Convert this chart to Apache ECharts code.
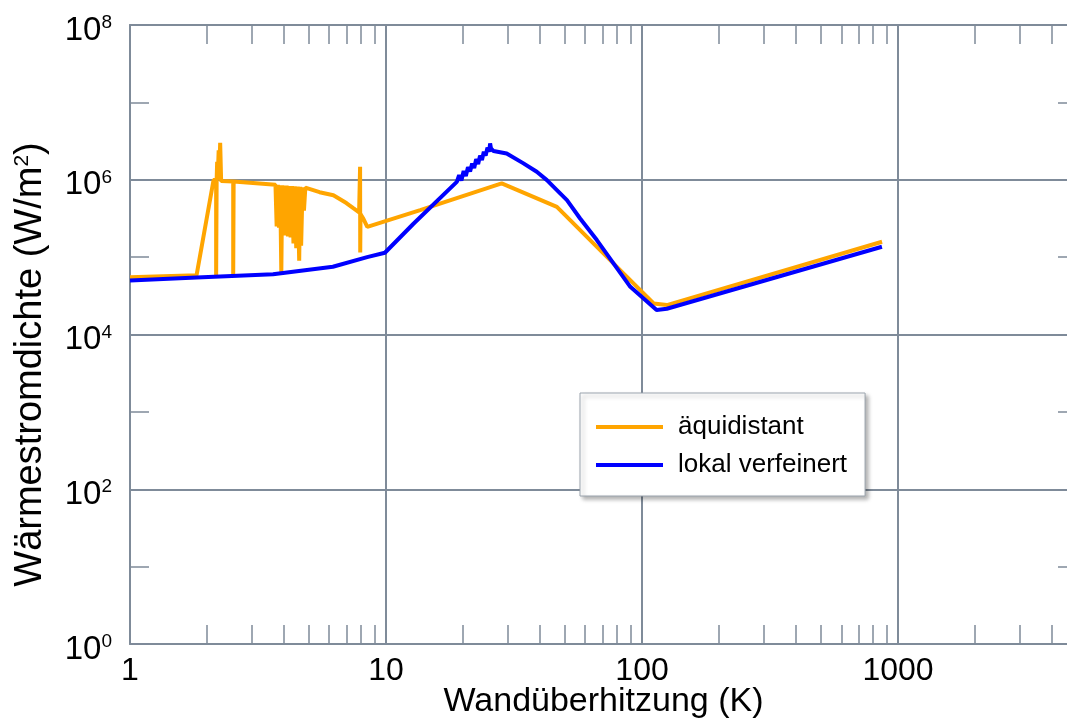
<!DOCTYPE html>
<html>
<head>
<meta charset="utf-8">
<script src="https://cdn.jsdelivr.net/npm/echarts@6.0.0/dist/echarts.min.js"></script>
<style>
html, body { margin: 0; padding: 0; background: #fff; }
#main { width: 1067px; height: 721px; }
</style>
</head>
<body>
<div id="main"></div>
<script>
// äquidistant (orange)
const aequiX = [1, 1.82, 2.12, 2.17, 2.17, 2.18, 2.19, 2.20, 2.22, 2.23, 2.25, 2.27, 2.27, 2.53, 2.53, 2.54,
  3.70, 3.74, 3.78, 3.82, 3.86, 3.90, 3.93, 3.97, 4.00, 4.05, 4.09, 4.14, 4.18, 4.24, 4.29, 4.35, 4.40,
  4.46, 4.52, 4.58, 4.62, 4.66, 4.72, 4.78, 4.84, 5.5, 6.23, 7.0, 7.45, 7.85, 7.92, 7.93, 7.95, 8.17, 8.45,
  13.6, 28.3, 46.5, 87.3, 111, 125, 866];
const aequiY = [5.5e4, 5.85e4, 9.9e5, 1.0e6, 5.8e4, 1.0e6, 1.7e6, 1.0e6, 2.4e6, 1.1e6, 3.0e6, 3.0e6, 9.6e5, 9.5e5, 5.8e4, 9.5e5,
  8.6e5, 2.5e5, 8.6e5, 2.4e5, 8.5e5, 6.2e4, 8.5e5, 2.0e5, 8.4e5, 1.9e5, 8.4e5, 1.85e5, 8.3e5, 1.8e5, 8.3e5, 1.5e5, 8.2e5,
  1.3e5, 8.2e5, 9.0e4, 8.1e5, 1.4e5, 8.0e5, 4.0e5, 7.9e5, 6.9e5, 6.3e5, 5.0e5, 4.3e5, 3.8e5, 1.47e6, 1.15e5, 3.6e5, 3.1e5, 2.46e5,
  4.05e5, 8.96e5, 4.47e5, 5.56e4, 2.52e4, 2.40e4, 1.58e5];

// lokal verfeinert (blue)
const lokalX = [1, 1.82, 3.62, 6.2, 8.44, 9.9, 12.8, 18.9, 19.3, 19.7, 20.1, 20.5, 20.9, 21.3, 21.7, 22.1, 22.5, 22.9,
  23.3, 23.7, 24.1, 24.5, 24.9, 25.3, 25.5, 25.7, 26.3, 29.6, 34.3, 38.8, 42.5, 46.5, 50.9, 57.3, 66.6, 90, 114, 125, 865];
const lokalY = [4.97e4, 5.45e4, 6.0e4, 7.5e4, 1.0e5, 1.14e5, 2.7e5, 9.4e5, 1.15e6, 0.98e6, 1.3e6, 1.12e6, 1.45e6, 1.28e6, 1.62e6, 1.42e6, 1.85e6, 1.6e6,
  2.05e6, 1.8e6, 2.3e6, 2.05e6, 2.6e6, 2.3e6, 2.95e6, 2.55e6, 2.35e6, 2.19e6, 1.64e6, 1.27e6, 9.9e5, 7.35e5, 5.45e5, 3.16e5, 1.66e5, 4.13e4, 2.07e4, 2.15e4, 1.36e5];

const xMinorTicks = [2, 3, 4, 5, 6, 7, 8, 9, 20, 30, 40, 50, 60, 70, 80, 90,
  200, 300, 400, 500, 600, 700, 800, 900, 2000, 3000, 4000];

const seriesNames = ['äquidistant', 'lokal verfeinert'];

const font = 'Liberation Sans, Arial, sans-serif';
const gridColor = '#7f8b99';

function pairs(xs, ys) {
  return xs.map((x, i) => [x, ys[i]]);
}

const tickAxis = (pos) => ({
  type: 'log', logBase: 10, min: 1, max: 5000, position: pos,
  axisLine: { show: false },
  axisLabel: { show: false },
  splitLine: { show: false },
  axisTick: { show: true, inside: true, length: 19, customValues: xMinorTicks,
    lineStyle: { color: gridColor, width: 1.5 } }
});

const yTickAxis = (pos) => ({
  type: 'log', logBase: 10, min: 1, max: 1e8, position: pos,
  axisLine: { show: false },
  axisLabel: { show: false },
  splitLine: { show: false },
  axisTick: { show: true, inside: true, length: 19, lineStyle: { color: gridColor, width: 1.5 } }
});

let myChart = echarts.init(document.getElementById('main'));
const option = {
  animation: false,
  textStyle: { fontFamily: font },
  grid: { left: 130, top: 25, right: -10, bottom: 77, outerBoundsMode: 'none', containLabel: false },
  legend: {
    orient: 'vertical', left: 580, top: 393,
    padding: [21, 18, 18, 16],
    itemWidth: 67, itemHeight: 4, itemGap: 12, icon: 'rect',
    backgroundColor: '#fff', borderColor: '#9aa3ad', borderWidth: 1,
    shadowColor: 'rgba(0,0,0,0.3)', shadowBlur: 4, shadowOffsetX: 3, shadowOffsetY: 3,
    textStyle: { fontSize: 26, color: '#000', fontFamily: font, padding: [0, 0, 0, 10] },
    data: seriesNames
  },
  xAxis: [
    {
      type: 'log', logBase: 10, min: 1, max: 5000, position: 'bottom',
      name: 'Wandüberhitzung (K)', nameLocation: 'middle', nameGap: 41, nameMoveOverlap: false,
      nameTextStyle: { fontSize: 34, color: '#000', fontFamily: font },
      axisLine: { show: true, onZero: false, lineStyle: { color: gridColor, width: 2 } },
      axisTick: { show: false },
      axisLabel: { fontSize: 32, color: '#000', margin: 11, showMaxLabel: false,
        formatter: (v) => String(Math.round(v)) },
      splitLine: { show: true, lineStyle: { color: gridColor, width: 2 } }
    },
    tickAxis('bottom'),
    Object.assign(tickAxis('top'), {
      axisLine: { show: true, onZero: false, lineStyle: { color: gridColor, width: 2 } }
    })
  ],
  yAxis: [
    {
      // base 100 puts labels and grid lines on every second decade
      type: 'log', logBase: 100, min: 1, max: 1e8, position: 'left',
      name: '{t|Wärmestromdichte (W/m}{s|2}{t|)}',
      nameLocation: 'middle', nameGap: 80, nameRotate: 90, nameMoveOverlap: false,
      nameTextStyle: {
        color: '#000', fontFamily: font, padding: [0, 60, 0, 0],
        rich: {
          t: { fontSize: 38, lineHeight: 38, color: '#000', fontFamily: font },
          s: { fontSize: 21, lineHeight: 21, verticalAlign: 'top', color: '#000', fontFamily: font }
        }
      },
      axisLine: { show: true, onZero: false, lineStyle: { color: gridColor, width: 2 } },
      axisTick: { show: false },
      splitLine: { show: true, lineStyle: { color: gridColor, width: 2 } },
      axisLabel: {
        margin: 18,
        formatter: (v) => '{b|10}{e|' + Math.round(Math.log10(v)) + '}',
        rich: {
          b: { fontSize: 33, lineHeight: 33, padding: [11, 0, 0, 0], color: '#000', fontFamily: font },
          e: { fontSize: 19, lineHeight: 19, padding: [5, 0, 0, 0], verticalAlign: 'top', color: '#000', fontFamily: font }
        }
      }
    },
    yTickAxis('left'),
    yTickAxis('right')
  ],
  series: [
    {
      name: seriesNames[0], type: 'line', data: pairs(aequiX, aequiY),
      symbol: 'none', color: '#FFA500', lineStyle: { color: '#FFA500', width: 4 }
    },
    {
      name: seriesNames[1], type: 'line', data: pairs(lokalX, lokalY),
      symbol: 'none', color: '#0000FF', lineStyle: { color: '#0000FF', width: 4 }
    }
  ]
};
myChart.setOption(option);
</script>
</body>
</html>
